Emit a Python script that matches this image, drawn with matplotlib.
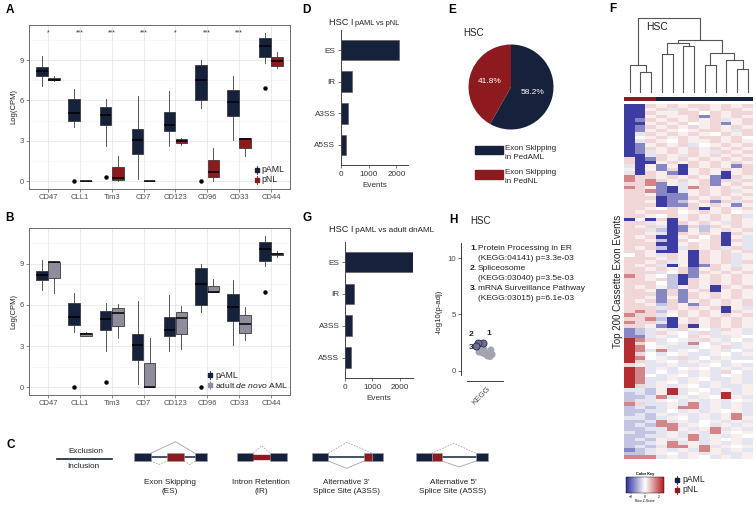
import numpy as np
import matplotlib
matplotlib.use("Agg")
import matplotlib.pyplot as plt
from matplotlib.colors import LinearSegmentedColormap, ListedColormap, Normalize
from matplotlib.patches import Rectangle
from matplotlib.cm import ScalarMappable

plt.rcParams['font.family'] = ['Liberation Sans', 'DejaVu Sans']
plt.rcParams['mathtext.fontset'] = 'custom'
plt.rcParams['mathtext.rm'] = 'Liberation Sans'
plt.rcParams['mathtext.it'] = 'Liberation Sans:italic'

NAVY = '#16213b'
RED = '#8c1a1f'
GREY = '#8d8d9c'
TXT = '#4d4d4d'

# ---------------- data ----------------
markers = ["CD47", "CLL1", "Tim3", "CD7", "CD123", "CD96", "CD33", "CD44"]
stars = ["*", "***", "***", "***", "*", "***", "***", ""]
# (whisker low, q1, median, q3, whisker high)
paml_box = [(7.1, 7.8, 8.2, 8.5, 9.3), (4.05, 4.5, 5.1, 6.1, 6.85),
            (2.65, 4.2, 4.95, 5.55, 6.1), (0.2, 2.0, 3.1, 3.85, 6.3),
            (2.65, 3.7, 4.2, 5.15, 6.7), (5.45, 6.0, 7.5, 8.65, 9.0),
            (3.1, 4.85, 5.85, 6.8, 7.8), (8.8, 9.2, 10.05, 10.6, 11.0)]
paml_out = [[], [0.0], [0.35], [], [], [0.0], [], [6.9]]
pnl_box = [(7.45, 7.5, 7.55, 7.7, 7.8), (0, 0, 0, 0, 0),
           (0, 0.1, 0.25, 1.05, 1.9), (0, 0, 0, 0, 0),
           (2.7, 2.85, 3.0, 3.15, 3.25), (0, 0.3, 0.7, 1.6, 2.5),
           (1.9, 2.5, 3.15, 3.2, 3.2), (8.4, 8.57, 8.9, 9.2, 9.6)]
dnaml_box = [(6.85, 7.95, 9.1, 9.15, 9.2), (3.7, 3.75, 3.85, 3.95, 4.0),
             (3.55, 4.45, 5.4, 5.75, 6.05), (0, 0, 0, 1.75, 3.55),
             (2.8, 3.9, 5.05, 5.5, 5.9), (6.9, 6.9, 6.95, 7.4, 7.9),
             (3.45, 3.95, 4.6, 5.25, 5.85), (9.5, 9.6, 9.7, 9.8, 9.9)]

event_types = ["ES", "IR", "A3SS", "A5SS"]
events_vs_pnl = [2080, 385, 265, 180]
events_vs_dnaml = [2480, 330, 255, 207]

pie_pct = [58.2, 41.8]
pie_labels = ["Exon Skipping\nin PedAML", "Exon Skipping\nin PedNL"]

pathways = ["Protein Processing in ER", "Spliceosome", "mRNA Surveillance Pathway"]
kegg_ids = ["04141", "03040", "03015"]
kegg_p = [3.3e-3, 3.5e-3, 6.1e-3]
top_x = [0.52, 0.41, 0.36]
other_x = [0.45, 0.50, 0.56, 0.61, 0.66, 0.71, 0.74, 0.63, 0.55, 0.43, 0.49, 0.69]
other_y = [1.75, 1.60, 1.50, 1.45, 1.55, 1.85, 1.45, 1.30, 1.90, 1.65, 2.00, 1.25]

# heatmap: 100 bands (2 events each) x 12 samples, coded z-scores
zcode = {'B': -2.6, 'b': -1.6, 'm': -0.8, 'l': -0.35, '.': 0.0,
         'q': 0.2, 'p': 0.5, 'r': 1.5, 'R': 2.6}
heat_rows = [
    "BBpqpqppqpqp", "BBqplpqpqppq", "BBpqqpp.pqpp", "BBqpqqpbpqpq", "Bbpqpqpqplqp",
    "BBqpqp.qpbqp", "Bbpqpqpqpqpq", "Bbqpq.qppqlp", "Blpqpqpq.pqp", "B.qpqpqppqp.",
    "Blpq.pqqpqpq", "Bbqpqpl.qpqp", "Bbpqpqpqpqpq", "Bblqpqpqlpqp", "BBlpqlpqpqpq",
    "pBbpqpqpqpqp", "pBBqpqpqpqpq", "lBqbqBpqpqbp", "qBqbpBqpqpqp", "lBpqbBqpqBqp",
    "rppqpqpqbBpq", "rprpqpqpbplp", "pprbqlqpbqpq", "rpqbBlrpqpqp", "pprbBlqpqplq",
    "ppqbbbqpqpqp", "pppBbbpqpqpq", "ppqBbmqpbplp", "pppBbbpqpqbq", "ppq.pqpBqpqp",
    "pqppp.qpqp.q", "ppq.pqpqpqpl", "B.BpBqpqpqpq", "pplqBpqpqlpq", "pqplBbpmpqpq",
    "pplmBbqmqpqp", "ppqlBpqpqBpq", "pqpBBqp.pBql", "ppqmBp.qpBpl", "pppBBqpqpBql",
    "pqpmBlpqplpl", "ppqBBqBpqpqp", ".pqlpqBpqplq", "pppqpqBpqplq", "ppqplqBpqplp",
    "pqplBqBbpqlq", "ppqpqpbqpqpq", "pppl.pbpqpqp", "rpq.mBbqpqpq", "ppqpmBpqpqpq",
    "ppp.mBpqpqpq", "pqpqmqpqBpqp", "ppqbpbqpBqpq", "pppbpbpqpqpq", "ppqbqbpqpqpq",
    "pqpbpbqpqpqp", "ppqmpqbpqpqp", "ppplpqpqpBql", "prpmqpqpqBpq", "rppl.pqpqpqp",
    "pprmBqpqpqpq", "rpplBqpqpqpq", "ppqbBpBqpqpq", "bmlqlpq.lpql", "bmlpq.lplqql",
    "bblql.pqllq.", "Rrpl.qlpql.l", "Rp.lqlr.lqlq", "Rr.qlll.qplq", "Rrlrlq.lql.l",
    "Rp.l.qllq.lq", "Rr.qlpl.lqll", "Rplq.lqlql..", "pqllqllq.lql", "Rrlql.q.lqlq",
    "Rrl.lqlqlp.l", "Rr.lq.lql.ql", "Rrllqlq.llql", "Rrlq.lqlqlql", "Rplqlq.lqllq",
    "llmqRlq.lqlq", "mlmqRl.qlRlq", "mmlrlqlq.Rql", "mllq.lqlql.q", "rpllqlrlqlql",
    "mlmlqrrlqlql", "mmll.lqlq.ql", "mlmqlqlqlqrl", "llmlq.lqlqrq", "mmlrlql.qlql",
    "mlmrrlq.lqlq", "mmllrqlqrlql", "lmmlqlqlrq.q", "mmllqlrlqlq.", "mlmqlqrlq.ql",
    "mmlqrlqlqlql", "mlmlrrqrlq.q", "bmlqlqlrqlql", "mmlq.lqlqllq", "rrrlqlq.lqlq",
]
col_groups = ["pNL"] * 3 + ["pAML"] * 9
# dendrogram merges: (left node, right node, height); new nodes numbered from 12
merges = [(1, 2, 0.284), (0, 12, 0.372), (3, 4, 0.526), (5, 6, 0.622),
          (14, 15, 0.662), (7, 8, 0.372), (10, 11, 0.32), (9, 18, 0.447),
          (17, 19, 0.534), (16, 20, 0.71), (13, 21, 1.0)]

# ---------------- figure ----------------
W, H = 756, 509
fig = plt.figure(figsize=(W / 100, H / 100), dpi=100)


def box(x0, y0, x1, y1):
    return [x0 / W, 1 - y1 / H, (x1 - x0) / W, (y1 - y0) / H]


ov = fig.add_axes([0, 0, 1, 1], zorder=5)
ov.set_xlim(0, W)
ov.set_ylim(H, 0)
ov.axis('off')


def draw_boxes(ax, stats, outliers, offset, color):
    st = [dict(whislo=b[0], q1=b[1], med=b[2], q3=b[3], whishi=b[4], fliers=o)
          for b, o in zip(stats, outliers)]
    ax.bxp(st, positions=np.arange(1, len(st) + 1) + offset, widths=0.36,
           patch_artist=True, showcaps=False, manage_ticks=False,
           boxprops=dict(facecolor=color, edgecolor='#3a3a3a', linewidth=0.6),
           medianprops=dict(color='black', linewidth=1.1),
           whiskerprops=dict(color='#3a3a3a', linewidth=0.6),
           flierprops=dict(marker='o', markersize=2.2, markerfacecolor='black',
                           markeredgecolor='black'))


def style_box_ax(ax):
    ax.set_xlim(0.4, 8.6)
    ax.set_ylim(-0.57, 11.6)
    ax.set_xticks(range(1, 9))
    ax.set_xticklabels(markers)
    ax.set_yticks([0, 3, 6, 9])
    ax.set_yticks([1.5, 4.5, 7.5, 10.5], minor=True)
    ax.grid(which='major', color='#e6e6e6', lw=0.6)
    ax.grid(which='minor', axis='y', color='#f2f2f2', lw=0.4)
    ax.set_axisbelow(True)
    ax.tick_params(which='minor', length=0)
    ax.tick_params(length=2, width=0.5, color='#555555', labelsize=5.5,
                   labelcolor=TXT, pad=1.5)
    for s in ax.spines.values():
        s.set_color('#6a6a6a')
        s.set_linewidth(0.7)
    ax.set_ylabel('Log(CPM)', fontsize=5.5, labelpad=2, color='#222222')


def glyph(x, y, color):
    ov.plot([x, x], [y - 4, y + 4], color=color, lw=0.6)
    ov.plot([x], [y], marker='s', ms=2.6, color=color)


# ---- A ----
axA = fig.add_axes(box(29, 25, 290, 189))
draw_boxes(axA, paml_box, paml_out, -0.19, NAVY)
draw_boxes(axA, pnl_box, [[]] * 8, 0.19, RED)
style_box_ax(axA)
for i, s in enumerate(stars):
    axA.text(i + 1, 11.0, s, ha='center', va='center', fontsize=5, color='#333333')
glyph(257, 170, NAVY)
glyph(257, 180, RED)
ov.text(261, 170, 'pAML', fontsize=6.3, va='center', color='#222222')
ov.text(261, 180, 'pNL', fontsize=6.3, va='center', color='#222222')

# ---- B ----
axB = fig.add_axes(box(29, 228, 290, 395))
draw_boxes(axB, paml_box, paml_out, -0.19, NAVY)
draw_boxes(axB, dnaml_box, [[]] * 8, 0.19, GREY)
style_box_ax(axB)
glyph(210, 375, NAVY)
glyph(210, 385, GREY)
ov.text(215, 375, 'pAML', fontsize=6.2, va='center', color='#222222')
ov.text(215, 385, r'adult $\it{de\ novo}$ AML', fontsize=6.1, va='center', color='#222222')


# ---- D / G ----
def draw_events(ax, values, xmax):
    ypos = np.arange(len(values))[::-1] + 1
    ax.barh(ypos, values, height=0.65, color=NAVY, edgecolor='#555555', linewidth=0.4)
    ax.set_yticks(ypos)
    ax.set_yticklabels(event_types)
    ax.set_xlim(0, xmax)
    ax.set_ylim(0.36, 4.64)
    ax.set_xticks([0, 1000, 2000])
    for side in ['top', 'right']:
        ax.spines[side].set_visible(False)
    for side in ['left', 'bottom']:
        ax.spines[side].set_color('#444444')
        ax.spines[side].set_linewidth(0.7)
    ax.tick_params(length=2.5, width=0.5, color='#444444', labelsize=5.9,
                   labelcolor='#333333', pad=1.5)
    ax.set_xlabel('Events', fontsize=5.9, color='#333333', labelpad=3)


axD = fig.add_axes(box(341, 30, 408, 165))
draw_events(axD, events_vs_pnl, 2420)
tD = ov.text(329, 22.7, 'HSC I', fontsize=6.6, va='center', color='#222222')
ov.annotate(' pAML vs pNL', xy=(1, 0), xycoords=tD, va='bottom', fontsize=5.3, color='#222222')

axG = fig.add_axes(box(345, 241.7, 413, 378))
draw_events(axG, events_vs_dnaml, 2480)
tG = ov.text(329, 230, 'HSC I', fontsize=6.6, va='center', color='#222222')
ov.annotate(' pAML vs adult dnAML', xy=(1, 0), xycoords=tG, va='bottom', fontsize=5.9, color='#222222')

# ---- E ----
axE = fig.add_axes(box(468.5, 44.5, 553.5, 129.5))
axE.pie(pie_pct, colors=[NAVY, RED], startangle=90, counterclock=False,
        autopct='%1.1f%%', pctdistance=0.52,
        textprops=dict(color='white', fontsize=6), wedgeprops=dict(linewidth=0))
axE.set_xlim(-1, 1)
axE.set_ylim(-1, 1)
ov.text(463, 33, 'HSC', fontsize=7, va='center', color='#222222')
for lab, col, y in zip(pie_labels, [NAVY, RED], [145.7, 170]):
    ov.add_patch(Rectangle((475, y), 28, 8.6, color=col))
    ov.text(505, y + 7, lab, fontsize=5.8, va='center', linespacing=1.45, color='#222222')

# ---- H ----
axH = fig.add_axes(box(460.7, 243, 503.3, 380.7))
axH.scatter(other_x, other_y, s=24, color='#a4a4b1', edgecolors='none', zorder=2)
top_y = [-np.log10(p) for p in kegg_p]
axH.scatter(top_x, top_y, s=26, facecolor='#6f6f93', edgecolors='#2b2b4b',
            linewidths=0.6, zorder=3)
for i, (dx, dy) in enumerate([(6, 9), (-7, 9), (-5, -2)]):
    axH.annotate(str(i + 1), (top_x[i], top_y[i]), xytext=(dx, dy),
                 textcoords='offset pixels', fontsize=6, fontweight='bold',
                 ha='center', va='center', color='#222222')
axH.set_xlim(0, 1)
axH.set_ylim(-0.89, 11.36)
axH.set_yticks([0, 5, 10])
axH.set_xticks([0.73])
axH.set_xticklabels(['KEGG'], rotation=45, ha='right', va='top')
axH.spines['top'].set_visible(False)
axH.spines['right'].set_visible(False)
axH.spines['left'].set_bounds(-0.4, 11.36)
axH.spines['bottom'].set_bounds(0.14, 1.0)
for side in ['left', 'bottom']:
    axH.spines[side].set_color('#3a3a55')
    axH.spines[side].set_linewidth(0.7)
axH.tick_params(axis='y', length=2, width=0.5, color='#444444', labelsize=5.6,
                labelcolor=TXT, pad=1.5)
axH.tick_params(axis='x', length=0, labelsize=5.8, labelcolor=TXT, pad=3)
axH.set_ylabel('-log10(p-adj)', fontsize=5.6, color='#222222', labelpad=3)
axH.patch.set_alpha(0)
ov.text(470, 221, 'HSC', fontsize=7, va='center', color='#222222')
for i, (name, kid, p) in enumerate(zip(pathways, kegg_ids, kegg_p)):
    y = 249 + i * 19.6
    ov.text(470, y, f'{i + 1}.', fontsize=6, fontweight='bold', va='center', color='#222222')
    ov.text(477.5, y, name, fontsize=6, va='center', color='#222222')
    ov.text(477.5, y + 9.8, f'(KEGG:{kid}) p={p:.1e}', fontsize=6, va='center', color='#222222')

# ---- F ----
cmap = LinearSegmentedColormap.from_list('rowz', ['#2e2e9c', '#ffffff', '#b01c22'])
Z = np.repeat(np.array([[zcode[c] for c in r] for r in heat_rows]), 2, axis=0)
axF = fig.add_axes(box(624.3, 104.3, 753.3, 459.3))
axF.imshow(Z, cmap=cmap, vmin=-2.8, vmax=2.8, aspect='auto', interpolation='nearest')
axF.axis('off')

axS = fig.add_axes(box(624.3, 96.7, 753.3, 101))
axS.imshow([[0 if g == 'pNL' else 1 for g in col_groups]],
           cmap=ListedColormap([RED, NAVY]), vmin=0, vmax=1, aspect='auto',
           interpolation='nearest')
axS.axis('off')

axT = fig.add_axes(box(624.3, 17.3, 753.3, 93.3))
n_leaf = len(col_groups)
node_x = {i: i + 0.5 for i in range(n_leaf)}
node_h = {i: 0.0 for i in range(n_leaf)}
for k, (a, b, h) in enumerate(merges):
    axT.plot([node_x[a], node_x[a], node_x[b], node_x[b]],
             [node_h[a], h, h, node_h[b]], color='#555555', lw=0.8)
    node_x[n_leaf + k] = (node_x[a] + node_x[b]) / 2
    node_h[n_leaf + k] = h
axT.set_xlim(0, n_leaf)
axT.set_ylim(0, 1.01)
axT.axis('off')
ov.text(646, 27, 'HSC', fontsize=7.5, va='center', color='#222222')
ov.text(618, 281, 'Top 200 Cassette Exon Events', fontsize=7, rotation=90,
        ha='center', va='center', color='#222222')

axK = fig.add_axes(box(626, 477, 664, 492.7))
cb = fig.colorbar(ScalarMappable(Normalize(-2.8, 2.8), cmap), cax=axK,
                  orientation='horizontal', ticks=[-2, 0, 2])
cb.outline.set_linewidth(0.3)
axK.tick_params(labelsize=2.6, length=1, width=0.3, pad=0.5)
axK.set_title('Color Key', fontsize=2.8, fontweight='bold', pad=1.5)
axK.set_xlabel('Row Z-Score', fontsize=2.4, labelpad=0.5)
glyph(676.5, 480, NAVY)
glyph(676.5, 490, RED)
ov.text(682, 480, 'pAML', fontsize=6.2, va='center', color='#222222')
ov.text(682, 490, 'pNL', fontsize=6.2, va='center', color='#222222')

# ---- C: splicing event schematics ----
EY0, EY1 = 453.3, 461.0
EM = (EY0 + EY1) / 2


def exon(x0, x1, color):
    ov.add_patch(Rectangle((x0, EY0), x1 - x0, EY1 - EY0, facecolor=color,
                           edgecolor='#9a9aa5', lw=0.4, zorder=3))


def intron(x0, x1):
    ov.plot([x0, x1], [EM, EM], color=NAVY, lw=1.1, zorder=2)


def arc(x0, xm, x1, ytip, up=True, dashed=False):
    yb = EY0 if up else EY1
    ov.plot([x0, xm, x1], [yb, ytip, yb], color='#a5a5a5', lw=0.6,
            ls=(0, (2, 1.5)) if dashed else '-', zorder=1)


ov.plot([57.3, 111.7], [458.7, 458.7], color=NAVY, lw=1.2)
ov.text(85.5, 451.5, 'Exclusion', fontsize=5.9, ha='center', va='center', color='#222222')
ov.text(83, 466, 'Inclusion', fontsize=5.9, ha='center', va='center', color='#222222')

# ES
intron(150.7, 195)
exon(134, 150.7, NAVY)
exon(167.3, 184, RED)
exon(195, 206.7, NAVY)
arc(150.7, 175.5, 195, 441.7, up=True)
arc(150.7, 159, 167.3, 464.5, up=False, dashed=True)
arc(184, 189.5, 195, 464.5, up=False, dashed=True)
# IR
exon(236.7, 253.3, NAVY)
ov.add_patch(Rectangle((253.3, 455.2), 16.7, 4, color=RED, zorder=3))
exon(270, 286.7, NAVY)
arc(253.3, 261.7, 270, 445.7, up=True, dashed=True)
# A3SS
intron(328.3, 364)
exon(311.7, 328.3, NAVY)
exon(364, 372.3, RED)
exon(372.3, 383.3, NAVY)
arc(328.3, 346.7, 372.3, 442.3, up=True, dashed=True)
arc(328.3, 346.7, 364, 468.3, up=False)
# A5SS
intron(442, 476)
exon(415.5, 431.5, NAVY)
exon(431.5, 442, RED)
exon(476, 488, NAVY)
arc(431.5, 454, 476, 443.3, up=True, dashed=True)
arc(442, 459, 476, 467, up=False)

for cx, lab in zip([170, 261, 346.7, 453],
                   ["Exon Skipping\n(ES)", "Intron Retention\n(IR)",
                    "Alternative 3'\nSplice Site (A3SS)", "Alternative 5'\nSplice Site (A5SS)"]):
    ov.text(cx, 487.3, lab, fontsize=5.9, ha='center', va='center', linespacing=1.45,
            color='#222222')

# panel letters
for letter, x, y in [('A', 10, 10), ('B', 10, 218), ('C', 10.7, 445), ('D', 306, 9.5),
                     ('E', 452, 9.5), ('F', 613, 8.5), ('G', 307, 218), ('H', 453, 220)]:
    ov.text(x, y, letter, fontsize=8.5, fontweight='bold', ha='center', va='center')

fig.savefig('out.png', dpi=100)
